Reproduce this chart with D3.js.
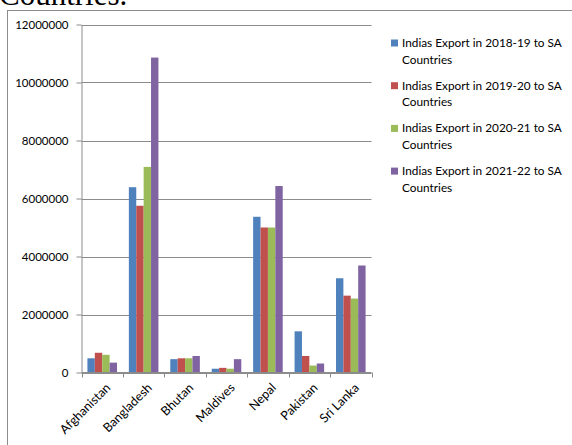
<!DOCTYPE html>
<html>
<head>
<meta charset="utf-8">
<script src="https://cdn.jsdelivr.net/npm/d3@7"></script>
<style>
  body { margin: 0; background: #fff; }
  svg text { font-family: Lato, "Liberation Sans", sans-serif; fill: #000; }
</style>
</head>
<body>
<div id="chart1"></div>
<script>
var countries = ['Afghanistan', 'Bangladesh', 'Bhutan', 'Maldives', 'Nepal', 'Pakistan', 'Sri Lanka'];
var seriesNames = [
    'Indias Export in 2018-19 to SA Countries',
    'Indias Export in 2019-20 to SA Countries',
    'Indias Export in 2020-21 to SA Countries',
    'Indias Export in 2021-22 to SA Countries'
];
var exp1819 = [490000, 6390000, 460000, 130000, 5370000, 1420000, 3250000];
var exp1920 = [680000, 5750000, 490000, 160000, 5000000, 570000, 2650000];
var exp2021 = [610000, 7090000, 490000, 130000, 5000000, 240000, 2550000];
var exp2122 = [340000, 10860000, 570000, 460000, 6430000, 310000, 3690000];
var yTicks = [0, 2000000, 4000000, 6000000, 8000000, 10000000, 12000000];
var colors = ['#4F81BD', '#C0504D', '#9BBB59', '#8064A2'];

var seriesValues = [exp1819, exp1920, exp2021, exp2122];

var svg = d3.select('#chart1')
    .append('svg')
    .attr('width', 572)
    .attr('height', 445);

// cut-off heading above the chart
svg.append('text')
    .attr('x', -1)
    .attr('y', 4.5)
    .style('font-family', '"Liberation Serif", serif')
    .style('font-size', '31px')
    .text('Countries.');

// chart frame
svg.append('rect')
    .attr('x', 7.5)
    .attr('y', 10.5)
    .attr('width', 600)
    .attr('height', 500)
    .attr('fill', 'none')
    .attr('stroke', '#8c8c8c');

var x0 = d3.scaleBand().domain(countries).range([81.5, 371.5]);
var bw = x0.bandwidth();
var x1 = d3.scaleBand().domain(d3.range(4)).range([bw * 0.143, bw * 0.857]);
var y = d3.scaleLinear().domain([0, 12000000]).range([372.5, 24.5]);

// gridlines
svg.append('g')
    .selectAll('line')
    .data(yTicks)
    .enter()
    .append('line')
    .attr('x1', 81.5)
    .attr('x2', 371.5)
    .attr('y1', function(d){ return Math.round(y(d)) + 0.5; })
    .attr('y2', function(d){ return Math.round(y(d)) + 0.5; })
    .attr('stroke', '#8c8c8c');

// y axis
var yAxis = svg.append('g')
    .attr('transform', 'translate(81.5,0)')
    .call(d3.axisLeft(y).tickValues(yTicks).tickFormat(d3.format('d')).tickSize(5).tickSizeOuter(0));
yAxis.select('.domain').attr('stroke', '#8c8c8c');
yAxis.selectAll('.tick line').attr('stroke', '#8c8c8c');
yAxis.selectAll('.tick text')
    .attr('x', -13)
    .style('font-size', '11.5px');

// bars
var groups = svg.append('g')
    .selectAll('g')
    .data(countries)
    .enter()
    .append('g')
    .attr('transform', function(d){ return 'translate(' + x0(d) + ',0)'; });

groups.selectAll('rect')
    .data(function(d, i){
        return seriesValues.map(function(s, k){ return {k: k, v: s[i]}; });
    })
    .enter()
    .append('rect')
    .attr('x', function(d){ return x1(d.k); })
    .attr('width', x1.bandwidth())
    .attr('y', function(d){ return y(d.v); })
    .attr('height', function(d){ return y(0) - y(d.v); })
    .attr('fill', function(d){ return colors[d.k]; });

// x axis
var xAxis = svg.append('g')
    .attr('transform', 'translate(0,372.5)');
xAxis.append('line')
    .attr('x1', 81.5).attr('x2', 371.5)
    .attr('stroke', '#8c8c8c');
xAxis.selectAll('line.tk')
    .data(countries.concat(['end']))
    .enter()
    .append('line')
    .attr('class', 'tk')
    .attr('x1', function(d, i){ return Math.round(81.5 + i * bw) + 0.5; })
    .attr('x2', function(d, i){ return Math.round(81.5 + i * bw) + 0.5; })
    .attr('y1', 0).attr('y2', 5)
    .attr('stroke', '#8c8c8c');
xAxis.selectAll('text')
    .data(countries)
    .enter()
    .append('text')
    .attr('transform', function(d){
        return 'translate(' + (x0(d) + bw / 2 + 9) + ',16) rotate(-45)';
    })
    .attr('text-anchor', 'end')
    .style('font-size', '12.5px')
    .text(function(d){ return d; });

// legend
var legend = svg.append('g')
    .selectAll('g')
    .data(seriesNames)
    .enter()
    .append('g')
    .attr('transform', function(d, i){ return 'translate(391,' + (43 + i * 42.7) + ')'; });

legend.append('rect')
    .attr('x', 0)
    .attr('y', -3.5)
    .attr('width', 7)
    .attr('height', 7)
    .attr('fill', function(d, i){ return colors[i]; });

legend.append('text')
    .attr('x', 11)
    .attr('y', 4)
    .style('font-size', '11.8px')
    .text(function(d){ return d.replace(' Countries', ''); });

legend.append('text')
    .attr('x', 11)
    .attr('y', 20.5)
    .style('font-size', '11.8px')
    .text('Countries');
</script>
</body>
</html>
